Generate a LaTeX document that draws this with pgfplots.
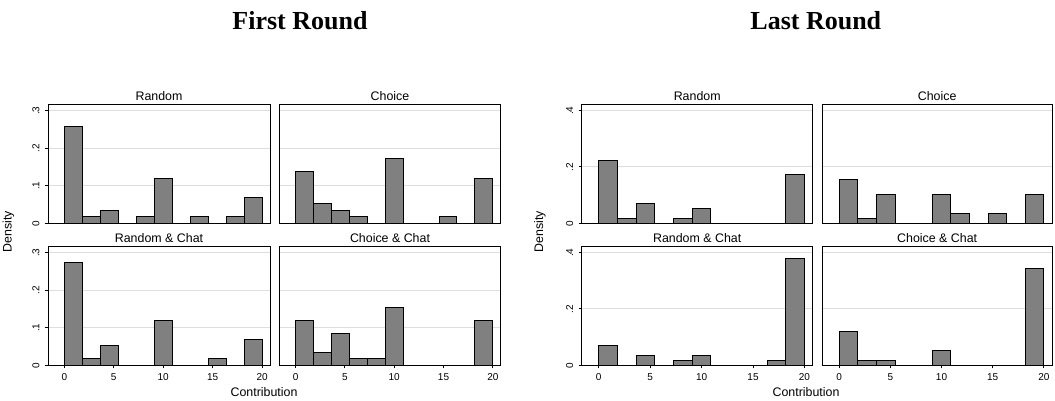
\documentclass[border=0pt]{standalone}
\usepackage{fontspec}
\setmainfont{Liberation Sans}
\newfontfamily\titlefont{Liberation Serif}
\usepackage{pgfplots}
\pgfplotsset{compat=1.18}

\definecolor{barfill}{RGB}{128,128,128}
\definecolor{gridgray}{RGB}{222,222,222}

\newcommand\tickfont{\fontsize{5}{6}\selectfont}
\newcommand\labfont{\fontsize{6.2}{7}\selectfont}

\pgfplotsset{
  panel/.style={anchor=south west, scale only axis, width=#1, height=59.3pt,
    xmin=-1.65, xmax=20.8, ymin=0, clip=false,
    axis line style={line width=0.5pt, black},
    tick pos=left, tick align=outside, major tick length=1.6pt,
    tick style={line width=0.5pt, black},
    ymajorgrids, major grid style={line width=0.5pt, gridgray},
    xtick=\empty,
    /pgf/number format/assume math mode=true,
    ticklabel style={font=\tickfont},
    yticklabel style={rotate=90, anchor=south, inner sep=0pt, yshift=2.5pt},
    xticklabel style={anchor=north, inner sep=0pt, yshift=-2.3pt},
  },
  fr/.style={ymax=0.316, ytick={0,0.1,0.2,0.3}, yticklabels={0,.1,.2,.3}},
  lr/.style={ymax=0.421, ytick={0,0.2,0.4}, yticklabels={0,.2,.4}},
  bottomrow/.style={xtick={0,5,10,15,20}, xticklabels={0,5,10,15,20}},
  rightcol/.style={yticklabels={,,,}, ytick style={draw=none}},
  bars/.style={ybar interval, fill=barfill, draw=black, line width=0.5pt},
}
\newcommand\ptitle[1]{\node[font=\labfont, anchor=base, inner sep=0pt] at (rel axis cs:0.5,1) [yshift=2.2pt] {#1};}

\begin{document}
\begin{tikzpicture}
\path[use as bounding box] (0,0) rectangle (527.5pt,200.5pt);

% ---------- First Round ----------
\begin{axis}[panel=111pt, fr, at={(24pt,88.85pt)}]
\addplot[bars] coordinates {(0,0.2578) (1.8182,0.0172) (3.6364,0.0344) (5.4545,0) (7.2727,0.0172) (9.0909,0.1203) (10.9091,0) (12.7273,0.0172) (14.5455,0) (16.3636,0.0172) (18.1818,0.0688) (20,0)};
\ptitle{Random}
\end{axis}

\begin{axis}[panel=110.7pt, fr, rightcol, at={(139.65pt,88.85pt)}]
\addplot[bars] coordinates {(0,0.1375) (1.8182,0.0516) (3.6364,0.0344) (5.4545,0.0172) (7.2727,0) (9.0909,0.1719) (10.9091,0) (12.7273,0) (14.5455,0.0172) (16.3636,0) (18.1818,0.1203) (20,0)};
\ptitle{Choice}
\end{axis}

\begin{axis}[panel=111pt, fr, bottomrow, at={(24pt,17.85pt)}]
\addplot[bars] coordinates {(0,0.2750) (1.8182,0.0172) (3.6364,0.0516) (5.4545,0) (7.2727,0) (9.0909,0.1203) (10.9091,0) (12.7273,0) (14.5455,0.0172) (16.3636,0) (18.1818,0.0688) (20,0)};
\ptitle{Random \& Chat}
\end{axis}

\begin{axis}[panel=110.7pt, fr, rightcol, bottomrow, at={(139.65pt,17.85pt)}]
\addplot[bars] coordinates {(0,0.1203) (1.8182,0.0344) (3.6364,0.0859) (5.4545,0.0172) (7.2727,0.0172) (9.0909,0.1547) (10.9091,0) (12.7273,0) (14.5455,0) (16.3636,0) (18.1818,0.1203) (20,0)};
\ptitle{Choice \& Chat}
\end{axis}

% ---------- Last Round ----------
\begin{axis}[panel=115.5pt, lr, at={(290.85pt,88.85pt)}]
\addplot[bars] coordinates {(0,0.2234) (1.8182,0.0172) (3.6364,0.0688) (5.4545,0) (7.2727,0.0172) (9.0909,0.0516) (10.9091,0) (12.7273,0) (14.5455,0) (16.3636,0) (18.1818,0.1719) (20,0)};
\ptitle{Random}
\end{axis}

\begin{axis}[panel=114.85pt, lr, rightcol, at={(411.15pt,88.85pt)}]
\addplot[bars] coordinates {(0,0.1547) (1.8182,0.0172) (3.6364,0.1031) (5.4545,0) (7.2727,0) (9.0909,0.1031) (10.9091,0.0344) (12.7273,0) (14.5455,0.0344) (16.3636,0) (18.1818,0.1031) (20,0)};
\ptitle{Choice}
\end{axis}

\begin{axis}[panel=115.5pt, lr, bottomrow, at={(290.85pt,17.85pt)}]
\addplot[bars] coordinates {(0,0.0688) (1.8182,0) (3.6364,0.0344) (5.4545,0) (7.2727,0.0172) (9.0909,0.0344) (10.9091,0) (12.7273,0) (14.5455,0) (16.3636,0.0172) (18.1818,0.3781) (20,0)};
\ptitle{Random \& Chat}
\end{axis}

\begin{axis}[panel=114.85pt, lr, rightcol, bottomrow, at={(411.15pt,17.85pt)}]
\addplot[bars] coordinates {(0,0.1203) (1.8182,0.0172) (3.6364,0.0172) (5.4545,0) (7.2727,0) (9.0909,0.0516) (10.9091,0) (12.7273,0) (14.5455,0) (16.3636,0) (18.1818,0.3438) (20,0)};
\ptitle{Choice \& Chat}
\end{axis}

% ---------- outer labels ----------
\node[font=\labfont, rotate=90, inner sep=0pt] at (4.15pt,84.5pt) {Density};
\node[font=\labfont, rotate=90, inner sep=0pt] at (270pt,84.5pt) {Density};
\node[font=\labfont, anchor=base, inner sep=0pt] at (132pt,2.25pt) {Contribution};
\node[font=\labfont, anchor=base, inner sep=0pt] at (403pt,2.25pt) {Contribution};

\node[font=\titlefont\bfseries\fontsize{13}{15}\selectfont, anchor=base west, inner sep=0pt] at (116pt,185.5pt) {First Round};
\node[font=\titlefont\bfseries\fontsize{13}{15}\selectfont, anchor=base west, inner sep=0pt] at (375pt,185.5pt) {Last Round};
\end{tikzpicture}
\end{document}
